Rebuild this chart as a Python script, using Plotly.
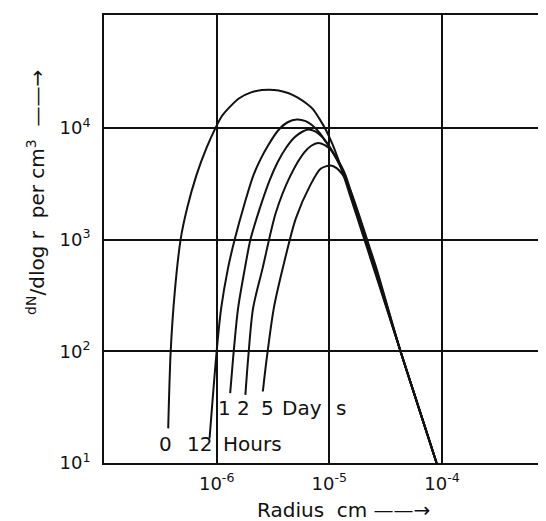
import math
import plotly.graph_objects as go

# ---- data (radius in cm, dN/dlog r per cm^3) ----
radius_0h = [3.715e-7, 3.908e-7, 4.246e-7, 4.786e-7, 5.458e-7, 6.607e-7, 8.128e-7, 9.772e-7,
             1.122e-6, 1.259e-6, 1.585e-6, 1.995e-6, 2.512e-6, 2.924e-6, 3.548e-6, 4.365e-6,
             5.248e-6, 6.310e-6, 7.112e-6, 8.128e-6, 9.333e-6, 1.059e-5, 1.189e-5, 1.343e-5,
             1.500e-5, 1.766e-5, 2.173e-5, 2.483e-5, 3.228e-5, 4.285e-5, 6.194e-5, 8.954e-5]
dn_0h = [20.42, 100, 338.8, 1000, 1897, 3758, 6607, 10000,
         12882, 14791, 18408, 20654, 21777, 21979, 21627, 20417,
         18621, 16406, 14791, 12162, 9550, 7244, 5370, 3715,
         2630, 1585, 831.8, 549.5, 242.1, 100, 31.62, 10]

radius_12h = [8.650e-7, 1.0e-6, 1.096e-6, 1.259e-6, 1.445e-6, 1.778e-6, 2.118e-6, 2.455e-6,
              2.851e-6, 3.508e-6, 4.266e-6, 5.152e-6, 6.166e-6, 6.998e-6, 8.128e-6, 9.333e-6,
              1.072e-5, 1.216e-5, 1.361e-5, 1.521e-5, 1.791e-5, 2.203e-5, 2.518e-5, 3.251e-5,
              4.285e-5, 6.194e-5, 8.954e-5]
dn_12h = [16.6, 100, 242.1, 549.5, 1000, 2138, 3758, 5248,
          6918, 9462, 11220, 11885, 11482, 10593, 9120, 7499,
          6026, 4786, 3715, 2630, 1585, 831.8, 549.5, 242.1,
          100, 31.62, 10]

radius_1d = [1.318e-6, 1.400e-6, 1.549e-6, 1.778e-6, 1.995e-6, 2.399e-6, 2.951e-6, 3.467e-6,
             4.121e-6, 4.920e-6, 5.754e-6, 6.501e-6, 7.413e-6, 8.511e-6, 9.772e-6, 1.096e-5,
             1.230e-5, 1.380e-5, 1.542e-5, 1.816e-5, 2.234e-5, 2.553e-5, 3.273e-5,
             4.285e-5, 6.194e-5, 8.954e-5]
dn_1d = [42.17, 87.1, 242.1, 549.5, 1000, 1862, 3388, 4898,
         6607, 8241, 9226, 9661, 9333, 8414, 7079, 5888,
         4786, 3715, 2630, 1585, 831.8, 549.5, 242.1,
         100, 31.62, 10]

radius_2d = [1.799e-6, 1.905e-6, 2.104e-6, 2.553e-6, 3.350e-6, 4.508e-6, 5.998e-6, 6.918e-6,
             7.943e-6, 9.120e-6, 1.035e-5, 1.161e-5, 1.274e-5, 1.400e-5, 1.563e-5, 1.841e-5,
             2.265e-5, 2.588e-5, 3.296e-5, 4.285e-5, 6.194e-5, 8.954e-5]
dn_2d = [40.74, 87.1, 242.1, 549.5, 1738, 3715, 6026, 6918,
         7328, 6998, 6310, 5370, 4571, 3715, 2630, 1585,
         831.8, 549.5, 242.1, 100, 31.62, 10]

radius_5d = [2.570e-6, 2.786e-6, 3.214e-6, 3.855e-6, 5.047e-6, 6.761e-6, 8.375e-6, 1.028e-5,
             1.161e-5, 1.303e-5, 1.445e-5, 1.567e-5, 1.866e-5, 2.296e-5, 2.624e-5, 3.319e-5,
             4.285e-5, 6.194e-5, 8.954e-5]
dn_5d = [43.65, 87.1, 242.1, 549.5, 1549, 3055, 4305, 4603,
         4365, 3846, 3236, 2630, 1585, 831.8, 549.5, 242.1,
         100, 31.62, 10]

series = [(radius_0h, dn_0h), (radius_12h, dn_12h), (radius_1d, dn_1d),
          (radius_2d, dn_2d), (radius_5d, dn_5d)]

# curve labels: (text, radius, value)
curve_labels = [("0", 3.491e-7, 14.79), ("12", 7.015e-7, 14.79), ("Hours", 2.089e-6, 14.79),
                ("1", 1.175e-6, 30.9), ("2", 1.726e-6, 30.9), ("5", 2.805e-6, 30.9),
                ("Day", 5.702e-6, 30.9), ("s", 1.259e-5, 30.9)]

x_tickvals = [1e-6, 1e-5, 1e-4]
x_ticktext = ["10<sup>-6</sup>", "10<sup>-5</sup>", "10<sup>-4</sup>"]
y_tickvals = [10, 100, 1000, 10000]
y_ticktext = ["10<sup>1</sup>", "10<sup>2</sup>", "10<sup>3</sup>", "10<sup>4</sup>"]

INK = "#111111"
FONT = "DejaVu Sans"

fig = go.Figure()
for r, n in series:
    fig.add_trace(go.Scatter(x=r, y=n, mode="lines",
                             line=dict(color=INK, width=2, shape="spline", smoothing=0.8),
                             showlegend=False, hoverinfo="skip"))

for text, rx, vy in curve_labels:
    fig.add_annotation(x=math.log10(rx), y=math.log10(vy), xref="x", yref="y",
                       text=text, showarrow=False, xanchor="center", yanchor="middle",
                       font=dict(family=FONT, size=20, color=INK))

fig.add_annotation(xref="paper", yref="paper", x=0.539, y=-0.106,
                   xanchor="center", yanchor="middle",
                   text="Radius  cm ——→", showarrow=False,
                   font=dict(family=FONT, size=20, color=INK))
fig.add_annotation(xref="paper", yref="paper", x=-0.153, y=0.605, textangle=-90,
                   xanchor="center", yanchor="middle",
                   text="<sup>dN</sup>/dlog r  per cm<sup>3</sup>  ——→", showarrow=False,
                   font=dict(family=FONT, size=20, color=INK))

axis_common = dict(type="log", showgrid=True, gridcolor=INK, gridwidth=1.5,
                   showline=True, linecolor=INK, linewidth=2, mirror=True,
                   zeroline=False, ticks="", automargin=False,
                   tickfont=dict(family=FONT, size=18, color=INK))

fig.update_layout(
    width=546, height=521,
    margin=dict(l=96, r=5, t=7, b=66),
    paper_bgcolor="white", plot_bgcolor="white",
    xaxis=dict(range=[-7.0, -3.05], tickvals=x_tickvals, ticktext=x_ticktext,
               ticklabelstandoff=3, **axis_common),
    yaxis=dict(range=[1.0, 5.01], tickvals=y_tickvals, ticktext=y_ticktext,
               ticklabelstandoff=8, **axis_common),
)

fig.write_html("out.html")
